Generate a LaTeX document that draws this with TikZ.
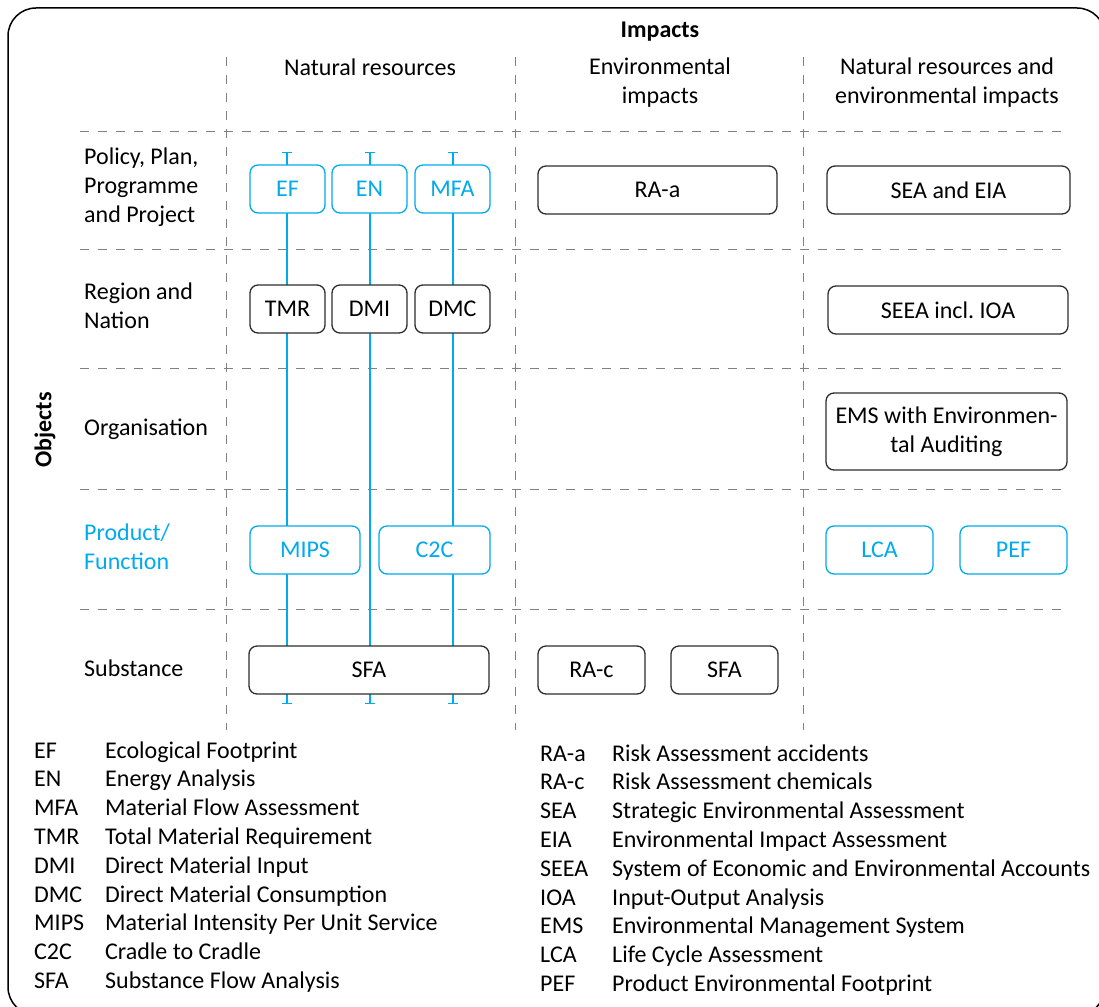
\documentclass[tikz,border=0pt]{standalone}
\usepackage{fontspec}
\setmainfont{Carlito}
\usetikzlibrary{arrows.meta}
\definecolor{cblue}{RGB}{0,170,236}
\definecolor{dashgray}{RGB}{128,128,128}
\definecolor{boxline}{RGB}{45,45,45}
\newcommand\dgfont{\fontsize{24}{29}\selectfont}
\frenchspacing
\begin{document}
\begin{tikzpicture}[x=1pt,y=-1pt,
  font=\dgfont,
  grid/.style={draw=dashgray, line width=1pt, dash pattern=on 9pt off 9pt},
  box/.style={draw=boxline, line width=1.3pt, rounded corners=8pt, fill=white,
              inner sep=0pt, align=center, text=black},
  bbox/.style={box, draw=cblue, text=cblue},
  flow/.style={draw=cblue, line width=1.3pt,
               {Bar[width=10pt]}-{Bar[width=10pt]}},
  rowlabel/.style={anchor=west, align=left, inner sep=0pt},
  head/.style={align=center, inner sep=0pt},
  abbr/.style={anchor=base west, inner sep=0pt},
]
\useasboundingbox (0,0) rectangle (1099,1006);
\clip (0,0) rectangle (1099,1006);

% outer frame
\draw[line width=1.5pt, rounded corners=28pt] (8,8) rectangle (1105,1015);

% dashed grid
\foreach \yy in {131,249,368,489,609}
  \draw[grid] (80,\yy) -- (1068,\yy);
\foreach \xx in {226,515,803}
  \draw[grid] (\xx,57) -- (\xx,730);

% headings
\node[head, font=\dgfont\bfseries] (impacts) at (660,32) {Impacts};
\node[head] (colA) at (370,67) {Natural resources};
\node[head] (colB) at (660,83) {Environmental\\impacts};
\node[head] (colC) at (947,83) {Natural resources and\\environmental impacts};
\node[head, rotate=90, font=\dgfont\bfseries] (objects) at (45,430) {Objects};

% row labels
\node[rowlabel] (rowA) at (84,187) {Policy, Plan,\\Programme\\and Project};
\node[rowlabel] (rowB) at (84,306) {Region and\\Nation};
\node[rowlabel] (rowC) at (84,429) {Organisation};
\node[rowlabel, text=cblue] (rowD) at (84,547) {Product/\\Function};
\node[rowlabel] (rowE) at (84,668) {Substance};

% blue flow lines through the natural-resource column
\coordinate (f1t) at (287,152); \coordinate (f1b) at (287,704);
\coordinate (f2t) at (370,152); \coordinate (f2b) at (370,704);
\coordinate (f3t) at (453,152); \coordinate (f3b) at (453,704);
\draw[flow] (f1t) -- (f1b);
\draw[flow] (f2t) -- (f2b);
\draw[flow] (f3t) -- (f3b);

% policy row
\node[bbox, minimum width=75pt, minimum height=48pt] (ef)  at (287.5,189) {EF};
\node[bbox, minimum width=75pt, minimum height=48pt] (en)  at (369.5,189) {EN};
\node[bbox, minimum width=75pt, minimum height=48pt] (mfa) at (452.5,189) {MFA};
\node[box, minimum width=239pt, minimum height=48pt] (raa) at (657.5,190) {RA-a};
\node[box, minimum width=243pt, minimum height=48pt] (seaeia) at (948.5,190) {SEA and EIA};

% region row
\node[box, minimum width=75pt, minimum height=48pt] (tmr) at (287.5,309) {TMR};
\node[box, minimum width=75pt, minimum height=48pt] (dmi) at (369.5,309) {DMI};
\node[box, minimum width=75pt, minimum height=48pt] (dmc) at (452.5,309) {DMC};
\node[box, minimum width=240pt, minimum height=48pt] (seea) at (948,310) {SEEA incl. IOA};

% organisation row
\node[box, minimum width=241pt, minimum height=77pt] (ems) at (946.5,431.5)
  {EMS with Environmen-\\tal Auditing};

% product row
\node[bbox, minimum width=110pt, minimum height=48pt] (mips) at (305,550) {MIPS};
\node[bbox, minimum width=111pt, minimum height=48pt] (ctc)  at (434.5,550) {C2C};
\node[bbox, minimum width=107pt, minimum height=48pt] (lca)  at (879.5,550) {LCA};
\node[bbox, minimum width=107pt, minimum height=48pt] (pef)  at (1013.5,550) {PEF};

% substance row
\node[box, minimum width=240pt, minimum height=48pt] (sfa) at (369,670) {SFA};
\node[box, minimum width=107pt, minimum height=48pt] (rac) at (591.5,670) {RA-c};
\node[box, minimum width=107pt, minimum height=48pt] (sfb) at (724.5,670) {SFA};

% legend, left column
\foreach \ab/\tx [count=\i from 0] in {
  EF/Ecological Footprint,
  EN/Energy Analysis,
  MFA/Material Flow Assessment,
  TMR/Total Material Requirement,
  DMI/Direct Material Input,
  DMC/Direct Material Consumption,
  MIPS/Material Intensity Per Unit Service,
  C2C/Cradle to Cradle,
  SFA/Substance Flow Analysis}
{
  \node[abbr] (la\i) at (34,758+28.8*\i) {\ab};
  \node[abbr] (lt\i) at (105,758+28.8*\i) {\tx};
}

% legend, right column
\foreach \ab/\tx [count=\i from 0] in {
  RA-a/Risk Assessment accidents,
  RA-c/Risk Assessment chemicals,
  SEA/Strategic Environmental Assessment,
  EIA/Environmental Impact Assessment,
  SEEA/System of Economic and Environmental Accounts,
  IOA/Input-Output Analysis,
  EMS/Environmental Management System,
  LCA/Life Cycle Assessment,
  PEF/Product Environmental Footprint}
{
  \node[abbr] (ra\i) at (540,761+28.8*\i) {\ab};
  \node[abbr] (rt\i) at (612,761+28.8*\i) {\tx};
}
\end{tikzpicture}
\end{document}
